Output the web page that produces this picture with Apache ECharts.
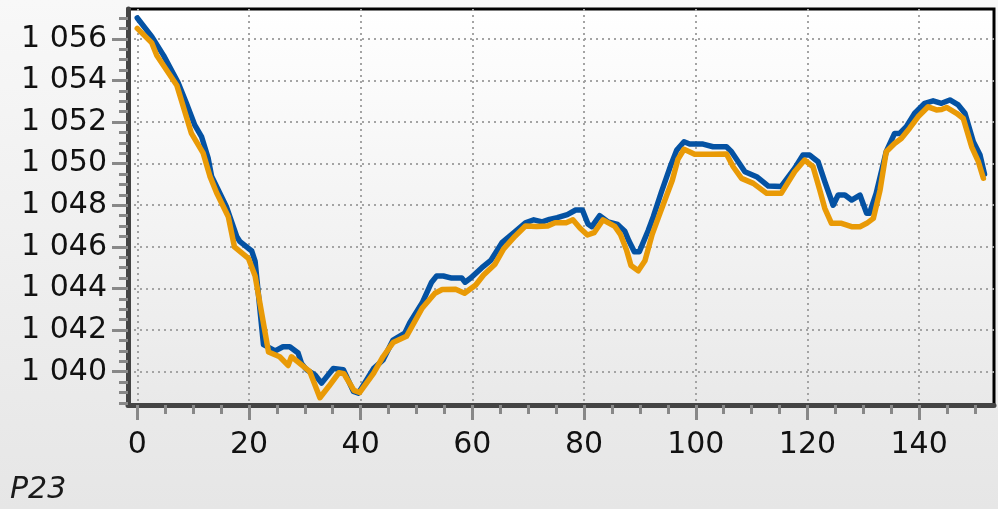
<!DOCTYPE html>
<html>
<head>
<meta charset="utf-8">
<script src="https://cdn.jsdelivr.net/npm/echarts@6/dist/echarts.min.js"></script>
<style>
  html, body { margin: 0; padding: 0; }
  #chart { width: 998px; height: 509px; }
</style>
</head>
<body>
<div id="chart"></div>
<script>
// P23 – two measured traces
const blueX = [0, 2.6, 4.7, 7.3, 8.8, 10.3, 11.5, 12.7, 13.3, 16.0, 17.8, 18.4, 20.5, 21.1, 22.6, 24.7, 26.1, 27.3, 28.8, 29.4,
  30.3, 31.8, 33.0, 35.1, 36.9, 38.7, 39.6, 42.3, 44.0, 45.8, 47.9, 48.8, 51.0, 52.7, 53.6, 54.8, 56.3, 58.1, 58.7, 59.7,
  61.7, 63.3, 65.3, 67.5, 69.5, 71.0, 72.5, 73.8, 75.2, 77.0, 78.5, 79.7, 80.7, 81.4, 82.8, 84.3, 86.0, 87.3, 88.0, 89.0,
  89.9, 91.5, 92.4, 93.8, 95.5, 96.6, 97.9, 98.9, 101.3, 103.1, 105.5, 106.4, 108.8, 110.9, 113.0, 115.3, 117.7, 119.2, 120.4, 121.9,
  123.1, 124.6, 125.5, 126.7, 127.9, 129.4, 130.6, 131.1, 132.3, 134.1, 135.6, 136.5, 137.7, 139.2, 141.0, 142.5, 144.0, 145.5, 147.0, 148.2,
  149.7, 150.9, 151.7];
const blueY = [1057.0, 1056.1, 1055.2, 1053.9, 1052.9, 1051.85, 1051.3, 1050.25, 1049.4, 1047.9, 1046.5, 1046.25, 1045.8, 1045.3, 1041.3, 1041.0, 1041.2, 1041.2, 1040.9, 1040.4,
  1040.1, 1039.85, 1039.45, 1040.15, 1040.1, 1039.05, 1038.97, 1040.15, 1040.56, 1041.52, 1041.85, 1042.35, 1043.3, 1044.3, 1044.6, 1044.6, 1044.5, 1044.5, 1044.3, 1044.5,
  1045.0, 1045.35, 1046.2, 1046.7, 1047.15, 1047.3, 1047.2, 1047.32, 1047.4, 1047.55, 1047.77, 1047.77, 1047.1, 1046.97, 1047.5, 1047.2, 1047.08, 1046.75, 1046.3, 1045.77,
  1045.77, 1046.8, 1047.45, 1048.6, 1049.9, 1050.65, 1051.05, 1050.94, 1050.94, 1050.81, 1050.81, 1050.57, 1049.61, 1049.37, 1048.92, 1048.9, 1049.77, 1050.41, 1050.41, 1050.09,
  1049.13, 1048.0, 1048.49, 1048.49, 1048.25, 1048.49, 1047.61, 1047.61, 1048.57, 1050.57, 1051.45, 1051.45, 1051.77, 1052.42, 1052.9, 1053.02, 1052.9, 1053.06, 1052.82, 1052.42,
  1051.05, 1050.41, 1049.5];

const orangeX = [0, 2.6, 3.5, 7.1, 9.7, 11.8, 13.0, 14.2, 16.3, 17.4, 19.9, 21.1, 23.5, 25.5, 27.0, 27.6, 30.9, 32.7, 34.3, 36.1,
  37.0, 38.8, 39.8, 42.3, 44.0, 45.8, 48.2, 51.0, 53.3, 54.6, 57.0, 58.6, 60.6, 62.0, 64.0, 65.6, 67.6, 69.5, 71.5, 73.5,
  74.8, 76.8, 78.0, 79.3, 80.6, 81.8, 83.4, 85.5, 86.5, 87.6, 88.4, 89.7, 90.9, 92.2, 93.7, 95.8, 96.8, 97.9, 99.8, 102.5,
  105.5, 106.7, 108.2, 110.3, 112.7, 115.3, 117.7, 119.5, 121.0, 122.2, 123.1, 124.3, 126.1, 127.9, 129.4, 130.6, 131.8, 133.0, 134.1, 135.6,
  136.8, 138.3, 139.8, 141.6, 143.1, 144.0, 144.9, 146.7, 147.9, 149.4, 150.6, 151.5];
const orangeY = [1056.5, 1055.8, 1055.2, 1053.75, 1051.45, 1050.5, 1049.4, 1048.6, 1047.45, 1046.0, 1045.45, 1044.6, 1040.95, 1040.72, 1040.3, 1040.72, 1040.0, 1038.75, 1039.3, 1039.95,
  1039.9, 1039.1, 1039.0, 1039.92, 1040.72, 1041.4, 1041.7, 1043.05, 1043.77, 1043.95, 1043.96, 1043.77, 1044.17, 1044.65, 1045.15, 1045.9, 1046.5, 1047.0, 1046.98, 1047.0,
  1047.16, 1047.16, 1047.3, 1046.89, 1046.57, 1046.68, 1047.3, 1046.98, 1046.6, 1045.85, 1045.1, 1044.85, 1045.33, 1046.6, 1047.7, 1049.2, 1050.2, 1050.69, 1050.45, 1050.45,
  1050.46, 1049.85, 1049.29, 1049.05, 1048.57, 1048.57, 1049.61, 1050.17, 1049.85, 1048.73, 1047.85, 1047.13, 1047.13, 1046.97, 1046.97, 1047.13, 1047.37, 1048.73, 1050.57, 1050.97,
  1051.21, 1051.7, 1052.25, 1052.73, 1052.58, 1052.6, 1052.7, 1052.42, 1052.17, 1050.81, 1050.09, 1049.3];

const xTicks = [0, 20, 40, 60, 80, 100, 120, 140];
const yTicks = [1040, 1042, 1044, 1046, 1048, 1050, 1052, 1054, 1056];
const chartTitle = 'P23';

const pairs = (xs, ys) => xs.map((x, i) => [x, ys[i]]);
const groupThousands = v => String(v).replace(/\B(?=(\d{3})+(?!\d))/g, ' ');

const FONT = 'DejaVu Sans';
const tickStyle = { color: '#888888', width: 3 };
const gridLine = { show: true, lineStyle: { color: '#a4a4a4', width: 2, type: [2, 4] } };

const chart = echarts.init(document.getElementById('chart'), null, { renderer: 'canvas' });
chart.setOption({
  animation: false,
  backgroundColor: new echarts.graphic.LinearGradient(0, 0, 0, 1, [
    { offset: 0, color: '#f8f8f8' },
    { offset: 1, color: '#e6e6e6' }
  ]),
  title: {
    text: chartTitle,
    left: 5,
    top: 470,
    textStyle: { fontFamily: FONT, fontSize: 30, fontStyle: 'italic', fontWeight: 'normal', color: '#1a1a1a' }
  },
  grid: {
    left: 128, right: 4, top: 9, bottom: 104,
    show: true,
    borderColor: '#000000',
    borderWidth: 3,
    backgroundColor: new echarts.graphic.LinearGradient(0, 0, 0, 1, [
      { offset: 0, color: '#ffffff' },
      { offset: 1, color: '#e9e9e9' }
    ])
  },
  xAxis: {
    type: 'value',
    min: -1.66,
    max: 153.4,
    splitNumber: 8,
    axisLine: { show: true, onZero: false, lineStyle: { color: '#444444', width: 5 } },
    axisTick: { show: true, customValues: xTicks, length: 15, lineStyle: tickStyle },
    minorTick: { show: true, splitNumber: 4, length: 9, lineStyle: tickStyle },
    axisLabel: { customValues: xTicks, fontFamily: FONT, fontSize: 30, color: '#111111', margin: 25 },
    splitLine: gridLine
  },
  yAxis: {
    type: 'value',
    min: 1038.4,
    max: 1057.43,
    splitNumber: 10,
    axisLine: { show: true, onZero: false, lineStyle: { color: '#444444', width: 5 } },
    axisTick: { show: true, customValues: yTicks, length: 16, lineStyle: tickStyle },
    minorTick: { show: true, splitNumber: 4, length: 9, lineStyle: tickStyle },
    axisLabel: { customValues: yTicks, fontFamily: FONT, fontSize: 30, color: '#111111', margin: 21, formatter: groupThousands },
    splitLine: gridLine
  },
  series: [
    {
      type: 'line',
      data: pairs(blueX, blueY),
      showSymbol: false,
      symbol: 'none',
      clip: false,
      lineStyle: { color: '#0452a3', width: 5.5, join: 'round', cap: 'round' }
    },
    {
      type: 'line',
      data: pairs(orangeX, orangeY),
      showSymbol: false,
      symbol: 'none',
      clip: false,
      lineStyle: { color: '#e99a06', width: 5.5, join: 'round', cap: 'round' }
    }
  ]
});
</script>
</body>
</html>
